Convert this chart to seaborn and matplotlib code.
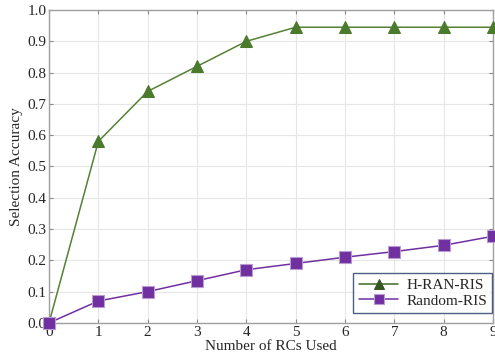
import pandas as pd
import seaborn as sns
import matplotlib.pyplot as plt

# values
rcs_used = [0, 1, 2, 3, 4, 5, 6, 7, 8, 9]
h_ran_ris = [0.0, 0.58, 0.74, 0.82, 0.90, 0.945, 0.945, 0.945, 0.945, 0.945]
random_ris = [0.0, 0.07, 0.10, 0.135, 0.17, 0.19, 0.21, 0.228, 0.248, 0.277]

sns.set_style("whitegrid")
plt.rcParams["font.family"] = ["Liberation Serif", "DejaVu Serif"]

df = pd.DataFrame({"x": rcs_used, "H-RAN-RIS": h_ran_ris, "Random-RIS": random_ris})
df_long = df.melt(id_vars="x", var_name="method", value_name="acc")

fig = plt.figure(figsize=(4.95, 3.58), dpi=100)
ax = fig.add_axes([0.099, 0.098, 0.897, 0.874])

sns.lineplot(data=df_long, x="x", y="acc", hue="method", style="method",
             palette={"H-RAN-RIS": "#548235", "Random-RIS": "#7030a0"},
             markers={"H-RAN-RIS": "^", "Random-RIS": "s"}, dashes=False,
             markersize=8, linewidth=1.1, ax=ax, clip_on=False, zorder=3)

# marker face/edge colors
for line in ax.lines:
    if line.get_marker() == "^":
        line.set_markerfacecolor("#4a7a2c")
        line.set_markeredgecolor("#4a7a2c")
    elif line.get_marker() == "s":
        line.set_markerfacecolor("#7030a0")
        line.set_markeredgecolor("#b89bd0")
        line.set_markeredgewidth(0.8)

ax.set_xlim(0, 9)
ax.set_ylim(0, 1.0)
ax.set_xticks(range(0, 10))
ax.set_yticks([i / 10 for i in range(11)])
ax.set_yticklabels([f"{i / 10:.1f}" for i in range(11)])
ax.set_xlabel("Number of RCs Used", fontsize=11, labelpad=1)
ax.set_ylabel("Selection Accuracy", fontsize=11, labelpad=3)
ax.tick_params(labelsize=11, direction="in", length=3, color="#888888",
               top=True, right=True, bottom=True, left=True, pad=2)
ax.grid(True, color="#e6e6e6", linewidth=0.8)
for s in ax.spines.values():
    s.set_color("#a0a0a0")
    s.set_linewidth(1.0)

leg = ax.legend(title=None, loc="lower right", fontsize=11, frameon=True,
                fancybox=False, borderpad=0.35, labelspacing=0.1,
                handlelength=2.6, handletextpad=0.5, borderaxespad=0,
                bbox_to_anchor=(0.998, 0.032))
leg.get_frame().set_edgecolor("#1f3864")
leg.get_frame().set_linewidth(1.0)
for h in leg.legend_handles:
    h.set_markersize(6.5)
    if h.get_marker() == "^":
        h.set_color("#3d6b22")
        h.set_markerfacecolor("#375623")
        h.set_markeredgecolor("#375623")
    else:
        h.set_markerfacecolor("#7030a0")
        h.set_markeredgecolor("#b89bd0")

fig.savefig("out.png", dpi=100)
